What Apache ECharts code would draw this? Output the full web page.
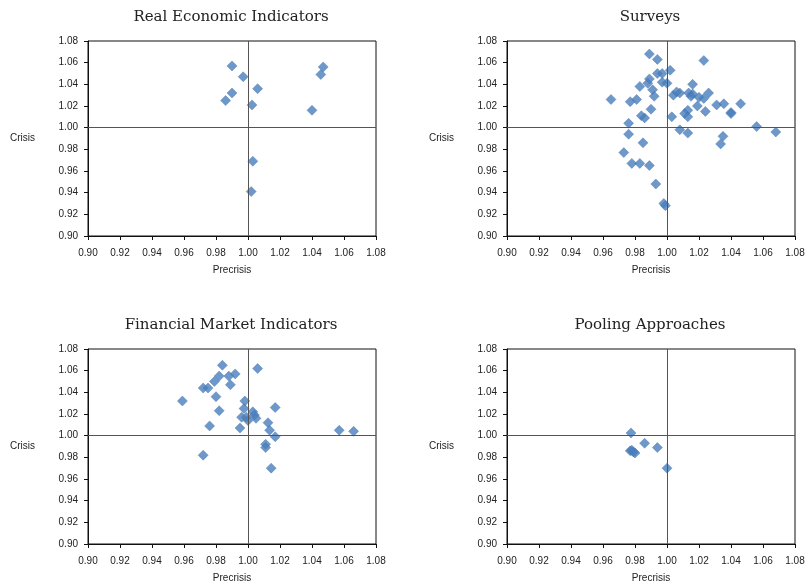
<!DOCTYPE html>
<html>
<head>
<meta charset="utf-8">
<script src="https://cdn.jsdelivr.net/npm/echarts@6/dist/echarts.min.js"></script>
<style>
  html, body { margin: 0; padding: 0; background: #fff; }
  #chart { width: 809px; height: 587px; }
</style>
</head>
<body>
<div id="chart"></div>
<script>
const titles = ['Real Economic Indicators', 'Surveys', 'Financial Market Indicators', 'Pooling Approaches'];

// [precrisis, crisis]
const realEconomic = [
  [0.990, 1.057], [0.997, 1.047], [1.006, 1.036], [0.990, 1.032], [0.986, 1.025],
  [1.0025, 1.021], [1.047, 1.056], [1.0455, 1.049], [1.040, 1.016], [1.003, 0.969],
  [1.002, 0.941]
];

const surveys = [
  [0.989, 1.068], [0.994, 1.063], [1.023, 1.062], [0.994, 1.050], [0.997, 1.050],
  [1.002, 1.053], [0.997, 1.042], [1.000, 1.041], [0.989, 1.045], [0.988, 1.041],
  [1.016, 1.040], [0.983, 1.038], [0.991, 1.035], [0.992, 1.029], [0.965, 1.026],
  [0.981, 1.026], [0.977, 1.024], [0.990, 1.017], [0.984, 1.011], [0.986, 1.009],
  [0.976, 1.004], [0.976, 0.994], [1.003, 1.010], [1.004, 1.030], [1.006, 1.033],
  [1.008, 1.032], [1.0135, 1.032], [1.016, 1.031], [1.015, 1.029], [1.020, 1.028],
  [1.023, 1.027], [1.026, 1.032], [1.019, 1.020], [1.024, 1.015], [1.013, 1.016],
  [1.011, 1.013], [1.013, 1.010], [1.031, 1.021], [1.0355, 1.022], [1.040, 1.014],
  [1.040, 1.013], [1.046, 1.022], [1.008, 0.998], [1.013, 0.995], [1.035, 0.992],
  [1.0335, 0.985], [1.056, 1.001], [1.068, 0.996], [0.973, 0.977], [0.978, 0.967],
  [0.983, 0.967], [0.985, 0.986], [0.989, 0.965], [0.993, 0.948], [0.998, 0.930],
  [0.999, 0.928]
];

const financial = [
  [0.984, 1.065], [1.006, 1.062], [0.992, 1.057], [0.988, 1.055], [0.982, 1.055],
  [0.979, 1.050], [0.989, 1.047], [0.972, 1.044], [0.975, 1.044], [0.980, 1.036],
  [0.959, 1.032], [0.998, 1.032], [0.9975, 1.025], [1.017, 1.026], [0.982, 1.023],
  [1.003, 1.022], [0.996, 1.017], [0.999, 1.017], [1.000, 1.014], [1.004, 1.019],
  [1.005, 1.016], [1.0125, 1.012], [0.976, 1.009], [0.995, 1.007], [1.0135, 1.005],
  [1.057, 1.005], [1.066, 1.004], [1.017, 0.999], [1.011, 0.992], [1.011, 0.989],
  [0.972, 0.982], [1.0145, 0.970]
];

const pooling = [
  [0.9775, 1.0025], [0.986, 0.993], [0.994, 0.989], [0.977, 0.986], [0.978, 0.9865],
  [0.980, 0.984], [0.979, 0.985], [1.000, 0.970]
];

const panels = [realEconomic, surveys, financial, pooling];
const tickMin = 0.90, tickMax = 1.08, tickStep = 0.02;

const lefts = [88, 507, 88, 507];
const tops = [41, 41, 349, 349];
const pw = 288, ph = 195;

const labelFont = { fontFamily: 'Liberation Sans, Arial, sans-serif', fontSize: 10, color: '#222' };

const chart = echarts.init(document.getElementById('chart'));

const option = {
  backgroundColor: '#fff',
  animation: false,
  title: titles.map((t, i) => ({
    text: t,
    left: lefts[i] + pw / 2 - 6,
    top: tops[i] - 36,
    textAlign: 'center',
    textStyle: { fontFamily: 'DejaVu Serif, Liberation Serif, serif', fontWeight: 'normal', fontSize: 15, color: '#222' }
  })),
  grid: panels.map((p, i) => ({
    left: lefts[i], top: tops[i], width: pw, height: ph,
    show: true, borderColor: '#111', borderWidth: 1, backgroundColor: '#fff'
  })),
  xAxis: panels.map((p, i) => ({
    gridIndex: i, type: 'value', min: tickMin, max: tickMax, interval: tickStep,
    name: 'Precrisis', nameLocation: 'middle', nameGap: 29,
    nameTextStyle: labelFont,
    axisLine: { show: true, onZero: false, lineStyle: { color: '#111' } },
    axisTick: { show: true, length: 4, lineStyle: { color: '#111' } },
    splitLine: { show: false },
    axisLabel: Object.assign({ formatter: v => v.toFixed(2), margin: 12, showMinLabel: true, showMaxLabel: true }, labelFont)
  })),
  yAxis: panels.map((p, i) => ({
    gridIndex: i, type: 'value', min: tickMin, max: tickMax, interval: tickStep,
    name: 'Crisis', nameLocation: 'middle', nameGap: 53, nameRotate: 0,
    nameTextStyle: labelFont,
    axisLine: { show: true, onZero: false, lineStyle: { color: '#111' } },
    axisTick: { show: true, length: 4, lineStyle: { color: '#111' } },
    splitLine: { show: false },
    axisLabel: Object.assign({ formatter: v => v.toFixed(2), margin: 10 }, labelFont)
  })),
  series: panels.map((p, i) => ({
    type: 'scatter', xAxisIndex: i, yAxisIndex: i,
    data: p, symbol: 'diamond', symbolSize: 10,
    itemStyle: { color: '#4a7ebb', borderColor: '#3f72ae', borderWidth: 0.5 },
    markLine: {
      silent: true, symbol: 'none', animation: false,
      label: { show: false },
      lineStyle: { color: '#555', width: 1, type: 'solid' },
      data: [{ xAxis: 1.0 }, { yAxis: 1.0 }]
    }
  }))
};

chart.setOption(option);
</script>
</body>
</html>
